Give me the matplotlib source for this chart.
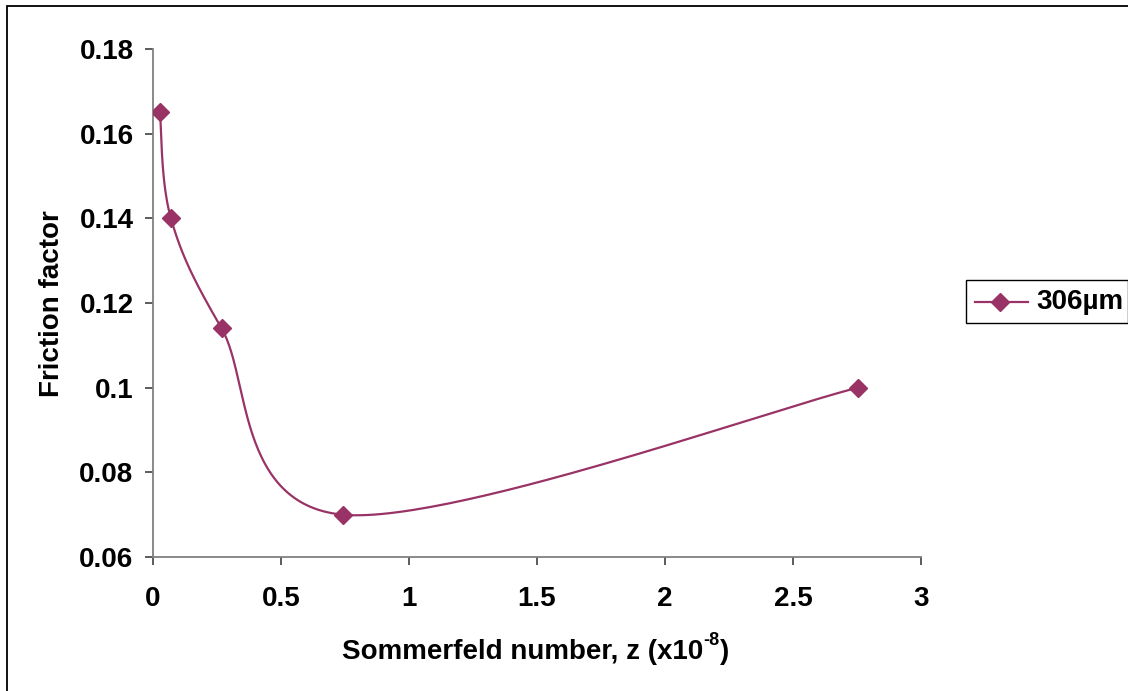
import numpy as np
import matplotlib
matplotlib.use("Agg")
import matplotlib.pyplot as plt
from matplotlib.patches import Rectangle

plt.rcParams['font.family'] = ['Liberation Sans', 'DejaVu Sans']

# Sommerfeld number (x1e-8) and measured friction factor
sommerfeld = [0.027, 0.070, 0.268, 0.741, 2.754]
friction = [0.165, 0.140, 0.114, 0.070, 0.100]
series_label = "306µm"
x_ticks = [0, 0.5, 1, 1.5, 2, 2.5, 3]
x_tick_labels = ["0", "0.5", "1", "1.5", "2", "2.5", "3"]
y_ticks = [0.06, 0.08, 0.1, 0.12, 0.14, 0.16, 0.18]
y_tick_labels = ["0.06", "0.08", "0.1", "0.12", "0.14", "0.16", "0.18"]

COLOR = "#993366"
W, H = 1128, 691
TICK_FS = 20
TITLE_FS = 20

fig = plt.figure(figsize=(W / 100, H / 100), dpi=100)
fig.patch.set_facecolor("white")
fig.patches.append(Rectangle((7 / W, -0.05), 1.2, 1 - 6 / H + 0.05,
                             transform=fig.transFigure, fill=False,
                             edgecolor="black", linewidth=1.3))

ax = fig.add_axes([153 / W, 1 - 557 / H, (921 - 153) / W, (557 - 49) / H])
ax.set_xlim(0, 3)
ax.set_ylim(0.06, 0.18)


def smooth_curve(xs, ys, ax, n=60):
    """Bezier smoothing of the series, built in display space."""
    P = ax.transData.transform(np.column_stack([xs, ys]))
    pts = []
    for i in range(len(P) - 1):
        p0 = P[i - 1] if i > 0 else P[i]
        p1, p2 = P[i], P[i + 1]
        p3 = P[i + 2] if i + 2 < len(P) else P[i + 1]
        c1 = p1 + (p2 - p0) / 6.0
        c2 = p2 - (p3 - p1) / 6.0
        t = np.linspace(0, 1, n)[:, None]
        seg = ((1 - t) ** 3) * p1 + 3 * ((1 - t) ** 2) * t * c1 \
            + 3 * (1 - t) * t ** 2 * c2 + t ** 3 * p2
        pts.append(seg if i == 0 else seg[1:])
    pts = np.vstack(pts)
    return ax.transData.inverted().transform(pts)


curve = smooth_curve(sommerfeld, friction, ax)
ax.plot(curve[:, 0], curve[:, 1], color=COLOR, linewidth=1.6,
        solid_joinstyle="round", zorder=2)
ax.plot(sommerfeld, friction, linestyle="none", marker="D", markersize=9,
        color=COLOR, zorder=3)

for s in ["top", "right"]:
    ax.spines[s].set_visible(False)
for s in ["left", "bottom"]:
    ax.spines[s].set_color("#808080")
    ax.spines[s].set_linewidth(1.3)

ax.set_xticks(x_ticks)
ax.set_xticklabels(x_tick_labels)
ax.set_yticks(y_ticks)
ax.set_yticklabels(y_tick_labels)
ax.tick_params(axis="both", direction="out", length=6, width=1.2,
               color="#404040", labelsize=TICK_FS)
ax.tick_params(axis="x", pad=15)
ax.tick_params(axis="y", pad=8)
for lab in ax.get_xticklabels() + ax.get_yticklabels():
    lab.set_fontweight("bold")

# x-axis title with a hyphen superscript exponent
main = fig.text(342 / W, 1 - 659 / H, "Sommerfeld number, z (x10",
                ha="left", va="baseline", fontsize=TITLE_FS, fontweight="bold")
fig.canvas.draw()
renderer = fig.canvas.get_renderer()
bb = main.get_window_extent(renderer)
sup = fig.text(bb.x1 / W, 1 - 645 / H, "-8", ha="left", va="baseline",
               fontsize=TITLE_FS * 0.65, fontweight="bold")
bb2 = sup.get_window_extent(renderer)
fig.text(bb2.x1 / W + 1 / W, 1 - 659 / H, ")", ha="left", va="baseline",
         fontsize=TITLE_FS, fontweight="bold")

fig.text(52 / W, 1 - 304 / H, "Friction factor", rotation=90,
         ha="center", va="center", fontsize=TITLE_FS, fontweight="bold")

# legend box
lx0, ly0, lx1, ly1 = 966, 280, 1128, 323
fig.patches.append(Rectangle((lx0 / W, 1 - ly1 / H), (lx1 - lx0) / W,
                             (ly1 - ly0) / H, transform=fig.transFigure,
                             fill=False, edgecolor="black", linewidth=1.0))
ym = 1 - 301.5 / H
fig.add_artist(plt.Line2D([975 / W, 1028 / W], [ym, ym], color=COLOR,
                          linewidth=1.6, transform=fig.transFigure))
fig.add_artist(plt.Line2D([1000 / W], [ym], marker="D", markersize=9,
                          color=COLOR, transform=fig.transFigure))
fig.text(1036 / W, ym, series_label, ha="left", va="center",
         fontsize=TITLE_FS, fontweight="bold")

fig.savefig("out.png", dpi=100)
